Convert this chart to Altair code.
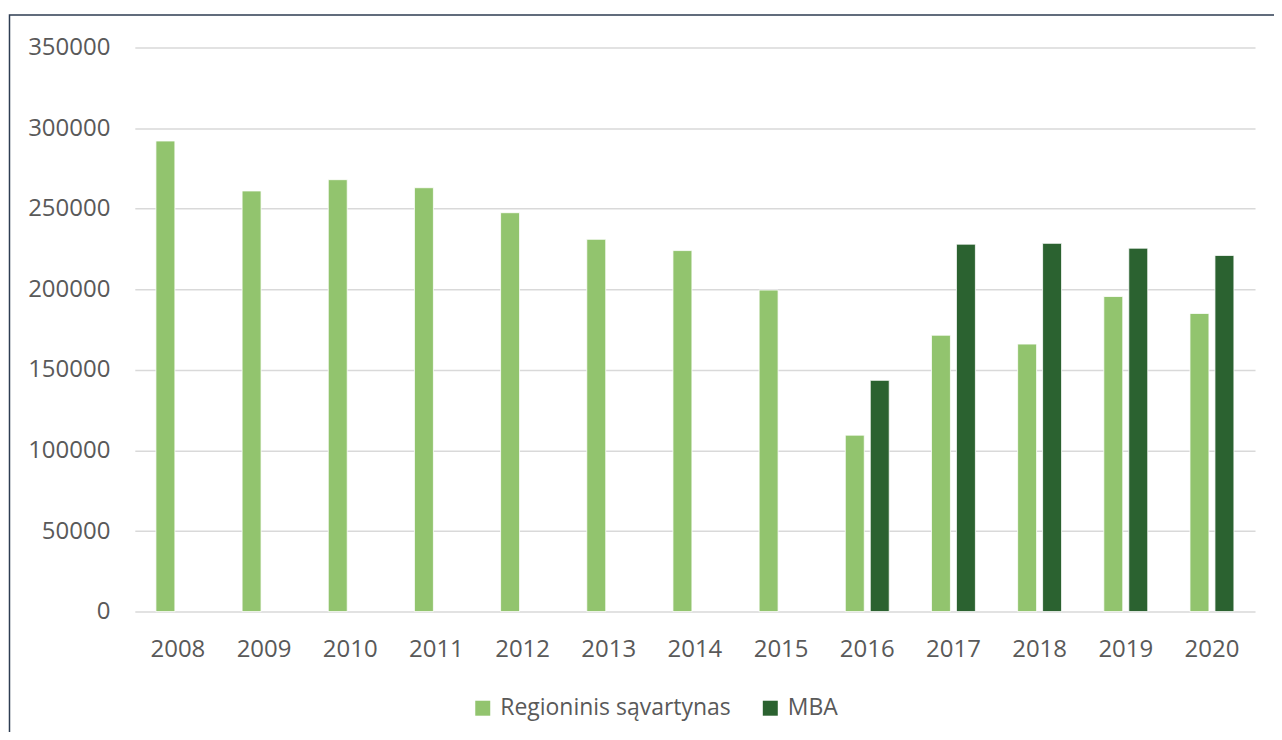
import altair as alt
import pandas as pd

years = ["2008", "2009", "2010", "2011", "2012", "2013", "2014",
         "2015", "2016", "2017", "2018", "2019", "2020"]
series = ["Regioninis sąvartynas", "MBA"]
regioninis = [292000, 261000, 268000, 263000, 247500, 231000, 224000,
              199500, 109500, 171500, 166000, 195500, 185000]
mba = [None, None, None, None, None, None, None, None,
       143500, 228000, 228500, 225500, 221000]
colors = ["#92C46E", "#2B6230"]
y_ticks = [0, 50000, 100000, 150000, 200000, 250000, 300000, 350000]

rows = []
for y, r, m in zip(years, regioninis, mba):
    rows.append({"year": y, "series": series[0], "value": r})
    if m is not None:
        rows.append({"year": y, "series": series[1], "value": m})
df = pd.DataFrame(rows)

FONT = "Open Sans"
TXT = "#595959"

bars = alt.Chart(df).mark_bar(stroke="white", strokeWidth=0.8).encode(
    x=alt.X("year:N", sort=years,
            scale=alt.Scale(paddingInner=0.49, paddingOuter=0.245),
            axis=alt.Axis(title=None, labelAngle=0, ticks=False, domain=False,
                          labelPadding=26, labelFont=FONT, labelFontSize=24,
                          labelColor=TXT)),
    xOffset=alt.XOffset("series:N", scale=alt.Scale(domain=series, paddingInner=0.24)),
    y=alt.Y("value:Q", scale=alt.Scale(domain=[0, 350000], nice=False),
            axis=alt.Axis(title=None, values=y_ticks, format="d", ticks=False,
                          domain=False, grid=True, gridColor="#D9D9D9",
                          gridWidth=1.5, labelPadding=25, labelFont=FONT,
                          labelFontSize=24, labelColor=TXT)),
    color=alt.Color("series:N",
                    scale=alt.Scale(domain=series, range=colors),
                    legend=alt.Legend(title=None, orient="none", direction="horizontal",
                                      legendX=337, legendY=650,
                                      symbolType="square", symbolSize=225,
                                      symbolStrokeWidth=0, labelFont=FONT,
                                      labelFontSize=23, labelColor=TXT,
                                      labelLimit=0, labelOffset=6,
                                      columnPadding=28)),
)

frame = alt.Chart(pd.DataFrame({"a": [0]})).mark_rect(
    fill="transparent", stroke="#2E3D52", strokeWidth=1.5
).encode(
    x=alt.value(-125.5), x2=alt.value(1160),
    y=alt.value(-32.5), y2=alt.value(720)
)

chart = alt.layer(frame, bars).properties(
    width=1122, height=565,
    padding={"left": 127, "top": 39, "right": 19, "bottom": 120},
    autosize=alt.AutoSizeParams(type="none"),
).configure_view(stroke=None)

chart.save("out.html", embed_options={"renderer": "svg", "actions": False})
